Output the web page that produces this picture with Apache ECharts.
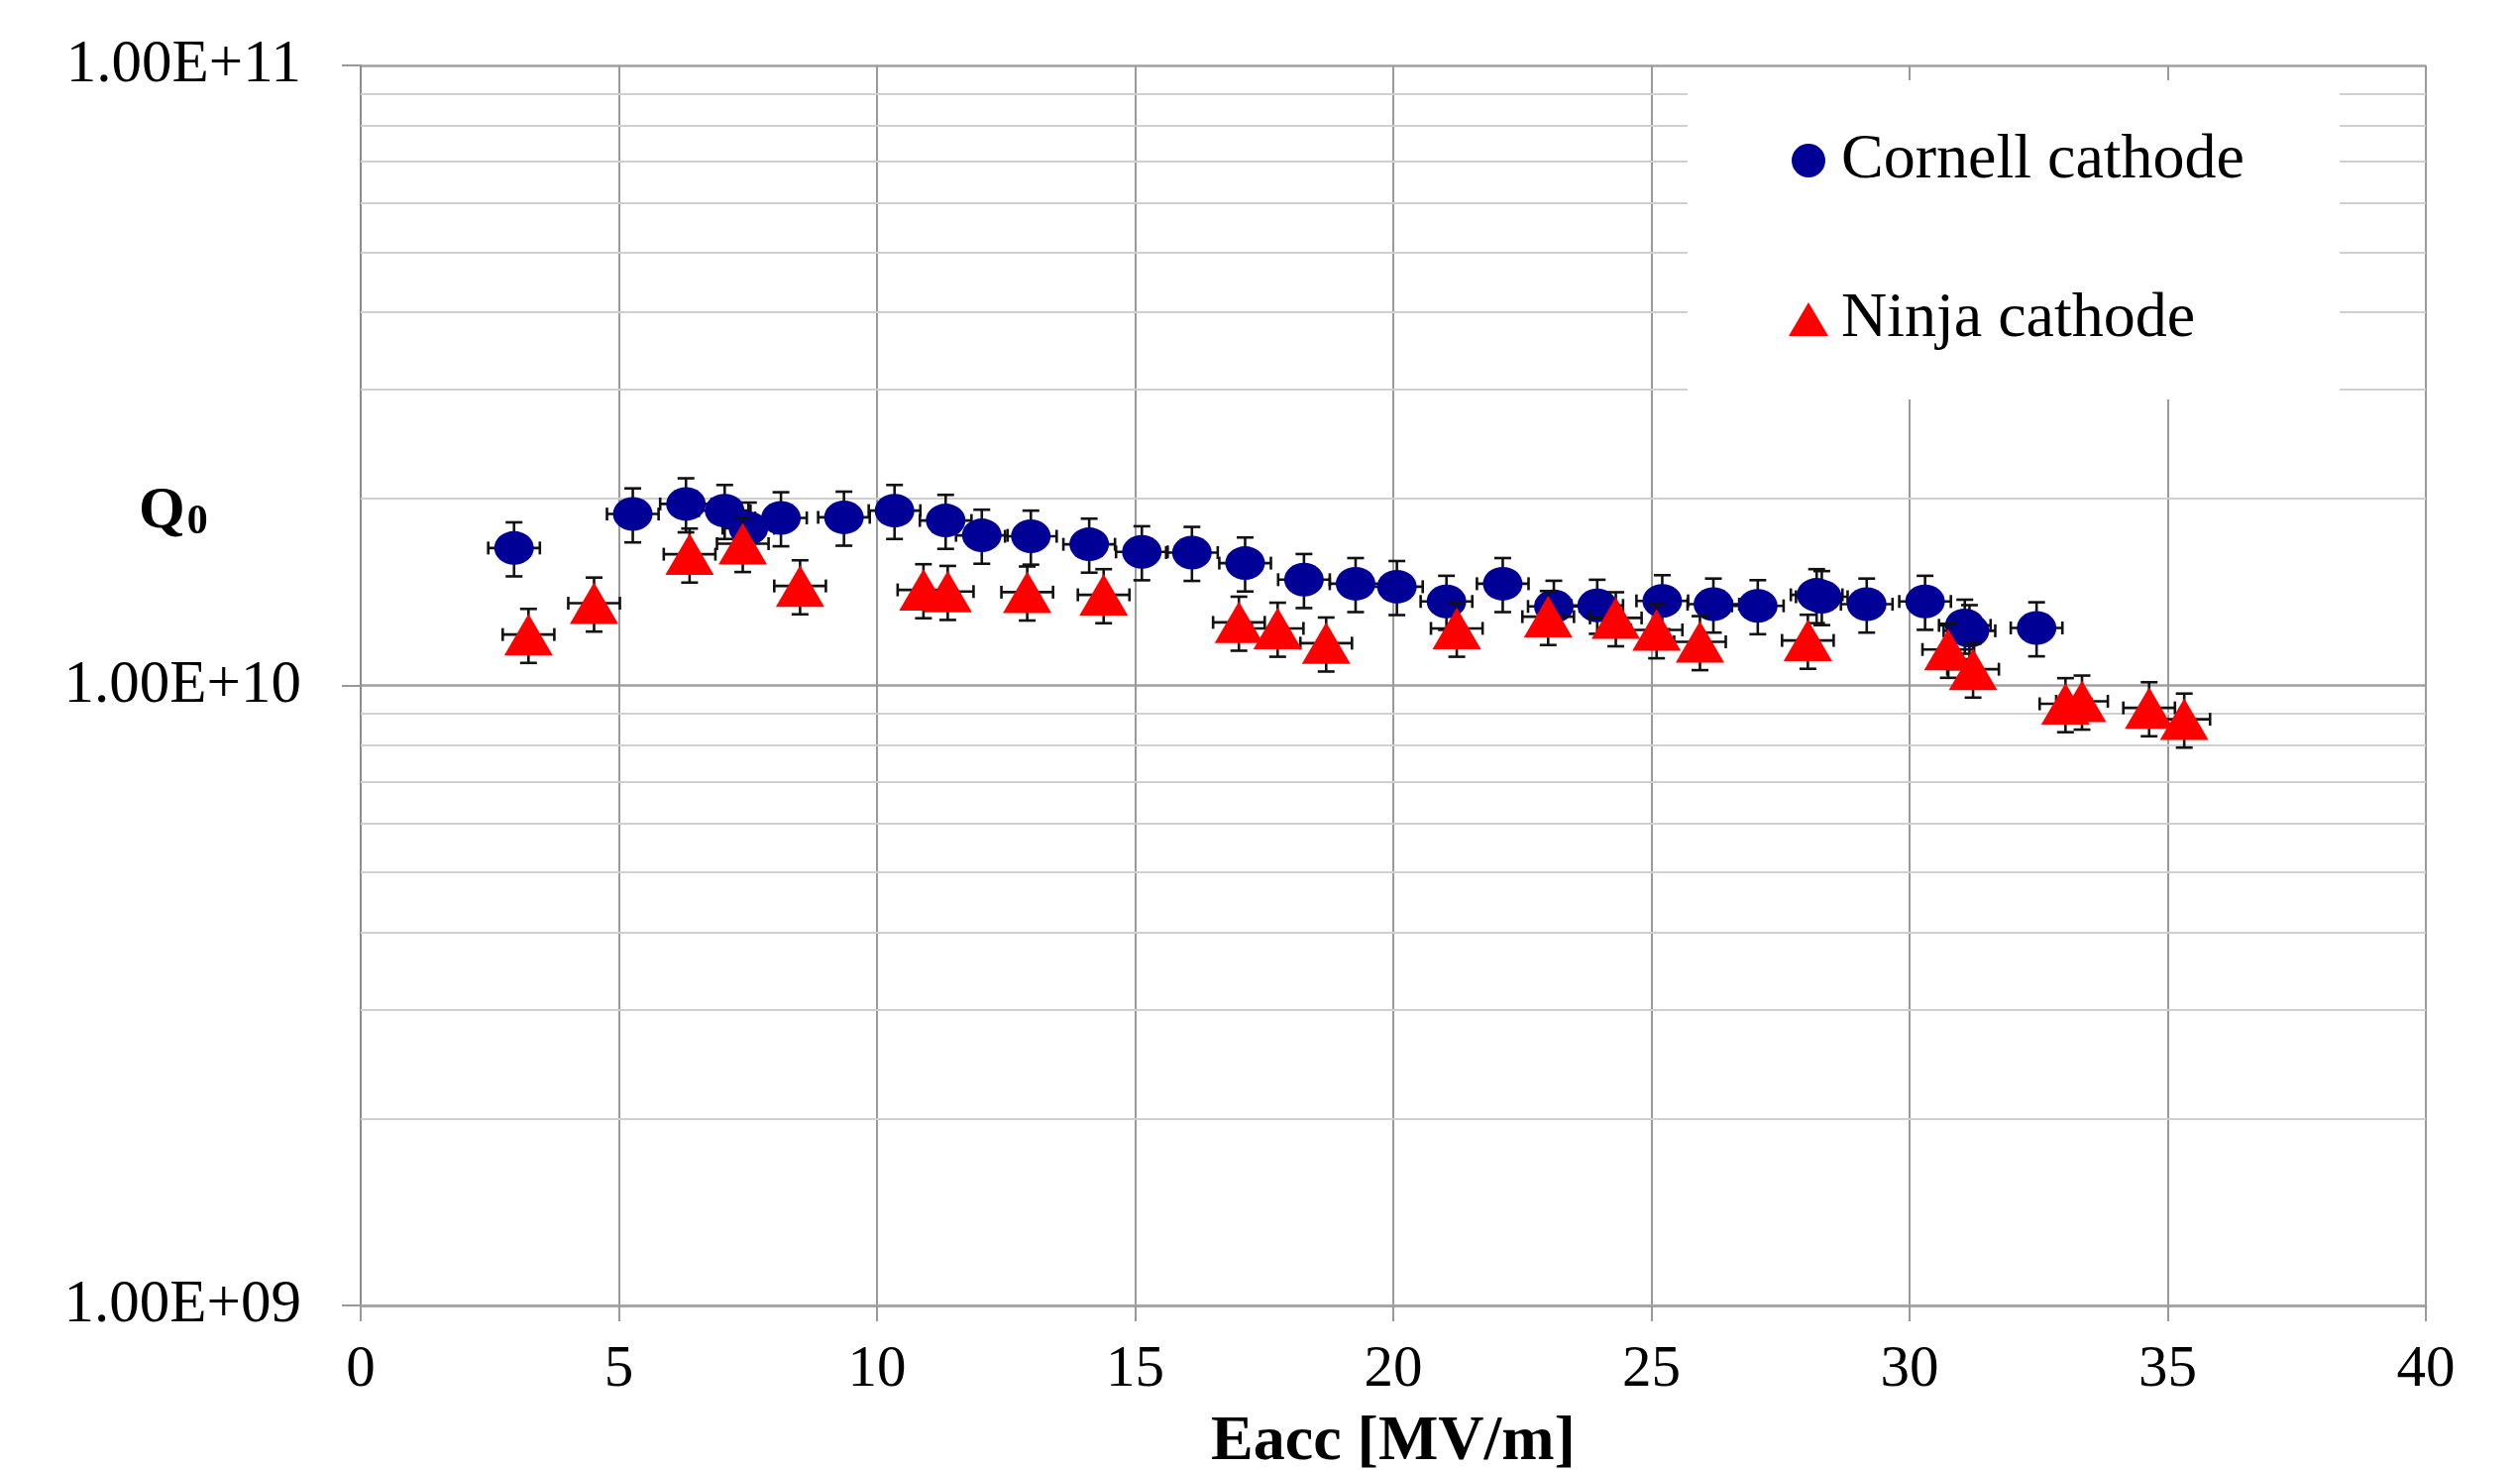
<!DOCTYPE html>
<html>
<head>
  <meta charset="utf-8">
  <title>Q0 vs Eacc</title>
  <script src="https://cdn.jsdelivr.net/npm/echarts@6/dist/echarts.min.js"></script>
  <style>
    html, body { margin: 0; padding: 0; background: #fff; }
    #chart { width: 2543px; height: 1483px; }
  </style>
</head>
<body>
  <div id="chart"></div>
  <script>
    // Cornell cathode points
    var cornellEacc = [2.97, 5.27, 6.30, 7.05, 7.51, 8.14, 9.36, 10.34, 11.33, 12.03, 12.98, 14.11,
      15.13, 16.10, 17.13, 18.27, 19.27, 20.07, 21.03, 22.12, 23.11, 23.95, 25.21, 26.20,
      27.06, 28.20, 28.30, 29.17, 30.30, 31.07, 31.16, 32.46];
    var cornellQ0 = [1.666e10, 1.89e10, 1.962e10, 1.914e10, 1.793e10, 1.863e10, 1.867e10, 1.914e10,
      1.845e10, 1.746e10, 1.74e10, 1.689e10, 1.642e10, 1.638e10, 1.575e10, 1.481e10, 1.459e10,
      1.443e10, 1.366e10, 1.459e10, 1.341e10, 1.346e10, 1.369e10, 1.352e10, 1.344e10, 1.40e10,
      1.39e10, 1.352e10, 1.366e10, 1.25e10, 1.225e10, 1.238e10];

    // Ninja cathode points
    var ninjaEacc = [3.25, 4.52, 6.37, 7.40, 8.51, 10.90, 11.37, 12.91, 14.39, 17.01, 17.76, 18.70,
      21.23, 23.00, 24.31, 25.10, 25.94, 28.03, 30.75, 31.23, 33.02, 33.34, 34.64, 35.32];
    var ninjaQ0 = [1.208e10, 1.357e10, 1.628e10, 1.693e10, 1.447e10, 1.426e10, 1.417e10, 1.414e10,
      1.40e10, 1.264e10, 1.236e10, 1.170e10, 1.236e10, 1.291e10, 1.285e10, 1.229e10, 1.176e10,
      1.182e10, 1.143e10, 1.062e10, 0.934e10, 0.943e10, 0.920e10, 0.882e10];

    // error bars: +-0.5 MV/m, +-10 % on Q0
    var eaccErr = 0.5;
    var q0ErrFrac = 0.10;

    var yTickLabels = { 9: '1.00E+09', 10: '1.00E+10', 11: '1.00E+11' };
    var minorSteps = [2, 3, 4, 5, 6, 7, 8, 9];
    var decades = [1e9, 1e10];

    var serif = "'Liberation Serif', 'Times New Roman', serif";

    function pairs(xs, ys) {
      return xs.map(function (x, i) { return [x, ys[i]]; });
    }

    var minorLines = [];
    decades.forEach(function (d) {
      minorSteps.forEach(function (m) { minorLines.push({ yAxis: d * m }); });
    });

    function errRender(params, api) {
      var x = api.value(0), y = api.value(1);
      var top = api.coord([x, y * (1 + q0ErrFrac)]);
      var bot = api.coord([x, y * (1 - q0ErrFrac)]);
      var lft = api.coord([x - eaccErr, y]);
      var rgt = api.coord([x + eaccErr, y]);
      var capV = 8.5, capH = 6.5;
      var st = { stroke: '#111', lineWidth: 2.6 };
      function seg(x1, y1, x2, y2) {
        return { type: 'line', shape: { x1: x1, y1: y1, x2: x2, y2: y2 }, style: st };
      }
      return {
        type: 'group',
        children: [
          seg(top[0], top[1], bot[0], bot[1]),
          seg(top[0] - capV, top[1], top[0] + capV, top[1]),
          seg(bot[0] - capV, bot[1], bot[0] + capV, bot[1]),
          seg(lft[0], lft[1], rgt[0], rgt[1]),
          seg(lft[0], lft[1] - capH, lft[0], lft[1] + capH),
          seg(rgt[0], rgt[1] - capH, rgt[0], rgt[1] + capH)
        ]
      };
    }

    var chart = echarts.init(document.getElementById('chart'), null, { renderer: 'canvas' });

    var option = {
      backgroundColor: '#ffffff',
      animation: false,
      grid: {
        left: 364, top: 66, width: 2084, height: 1251,
        containLabel: false,
        outerBoundsMode: 'none'
      },
      xAxis: {
        type: 'value',
        min: 0, max: 40, interval: 5,
        name: 'Eacc [MV/m]',
        nameLocation: 'middle',
        nameGap: 106,
        nameTextStyle: { fontFamily: serif, fontWeight: 'bold', fontSize: 64, color: '#000' },
        axisLine: { show: true, lineStyle: { color: '#a6a6a6', width: 3 } },
        axisTick: { show: true, length: 16, lineStyle: { color: '#999', width: 2 } },
        axisLabel: { fontFamily: serif, fontSize: 59, color: '#000', margin: 36 },
        splitLine: { show: true, lineStyle: { color: '#9a9a9a', width: 2 } }
      },
      yAxis: {
        type: 'log',
        logBase: 10,
        min: 1e9, max: 1e11,
        splitNumber: 2,
        axisLine: { show: true, lineStyle: { color: '#8c8c8c', width: 2 } },
        axisTick: { show: true, length: 19, lineStyle: { color: '#999', width: 2 } },
        axisLabel: {
          fontFamily: serif, fontSize: 61, color: '#000', margin: 60,
          formatter: function (v) {
            var e = Math.round(Math.log10(v));
            return yTickLabels[e] || '';
          }
        },
        splitLine: { show: true, lineStyle: { color: '#a0a0a0', width: 2.5 } },
        minorTick: { show: false },
        minorSplitLine: { show: false }
      },
      legend: {
        orient: 'vertical',
        left: 1805,
        top: 130,
        itemWidth: 40,
        itemHeight: 34,
        itemGap: 96,
        padding: 0,
        data: [
          { name: 'Cornell cathode', icon: 'circle' },
          { name: 'Ninja cathode', icon: 'triangle' }
        ],
        textStyle: { fontFamily: serif, fontSize: 64, color: '#000', padding: [0, 0, 0, 8] }
      },
      graphic: [
        {
          type: 'rect', z: 3, silent: true,
          shape: { x: 1703, y: 81, width: 658, height: 322 },
          style: { fill: '#ffffff' }
        },
        {
          type: 'text', z: 5, left: 140, top: 486,
          style: {
            text: '{q|Q}{s|0}',
            rich: {
              q: { fontFamily: serif, fontWeight: 'bold', fontSize: 60, fill: '#000' },
              s: { fontFamily: serif, fontWeight: 'bold', fontSize: 42, fill: '#000', padding: [22, 0, 0, 2] }
            }
          }
        }
      ],
      series: [
        {
          name: 'minor grid',
          type: 'line',
          data: [],
          z: 1,
          silent: true,
          markLine: {
            z: 1,
            silent: true,
            symbol: ['none', 'none'],
            label: { show: false },
            lineStyle: { color: '#d0d0d0', width: 2, type: 'solid' },
            data: minorLines
          }
        },
        {
          name: 'Cornell err',
          type: 'custom',
          renderItem: errRender,
          data: pairs(cornellEacc, cornellQ0),
          z: 4,
          silent: true
        },
        {
          name: 'Cornell cathode',
          type: 'scatter',
          symbol: 'circle',
          symbolSize: [40, 34],
          itemStyle: { color: '#000096', opacity: 1 },
          data: pairs(cornellEacc, cornellQ0),
          z: 5
        },
        {
          name: 'Ninja err',
          type: 'custom',
          renderItem: errRender,
          data: pairs(ninjaEacc, ninjaQ0),
          z: 6,
          silent: true
        },
        {
          name: 'Ninja cathode',
          type: 'scatter',
          symbol: 'triangle',
          symbolSize: [49, 42],
          itemStyle: { color: '#ff0000', opacity: 1 },
          data: pairs(ninjaEacc, ninjaQ0),
          z: 7
        }
      ]
    };

    chart.setOption(option);
    window.addEventListener('resize', function () {
      chart.resize();
    });
  </script>
</body>
</html>
